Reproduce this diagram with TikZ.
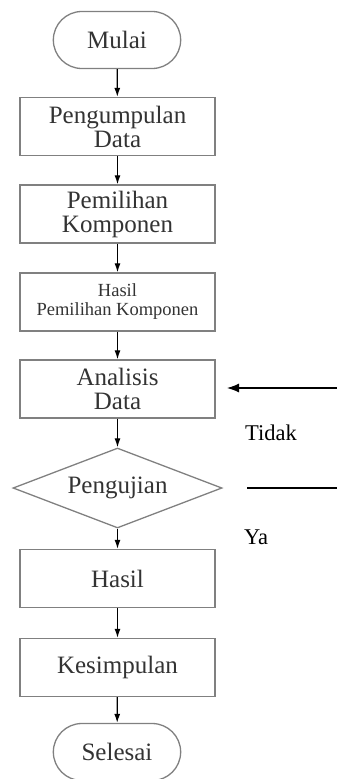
\documentclass[tikz,border=0pt]{standalone}
\usepackage{fontspec}
\setmainfont{Liberation Serif}
\usetikzlibrary{shapes.geometric,shapes.misc,arrows.meta}

\tikzset{
  garis/.style={draw=black!50, line width=1.3pt},
  proses/.style={garis, rectangle, minimum width=195pt, minimum height=58pt,
    align=center, text=black!80, font=\fontsize{25}{24}\selectfont},
  terminal/.style={garis, rounded rectangle, minimum width=134pt, minimum height=57pt,
    text=black!80, font=\fontsize{25}{24}\selectfont},
  keputusan/.style={garis, diamond, aspect=2.6, minimum width=209pt, minimum height=80pt,
    inner sep=0pt, text=black!80, font=\fontsize{25}{24}\selectfont},
  panah/.style={-{Latex[length=9pt,width=6pt]}, line width=1.2pt},
  label/.style={font=\fontsize{22.5}{23}\selectfont}
}

\begin{document}
\begin{tikzpicture}[x=1pt,y=-1pt]
\useasboundingbox (0,0) rectangle (337,779);
\node[terminal](mulai) at (117,40) {Mulai};
\node[proses](kumpul) at (117.5,126.5) {Pengumpulan\\Data};
\node[proses](pilih) at (117.5,214) {Pemilihan\\Komponen};
\node[proses, font=\fontsize{18.5}{19}\selectfont](hasilpilih) at (117.5,302) {Hasil\\Pemilihan Komponen};
\node[proses](analisis) at (117.5,389) {Analisis\\Data};
\node[keputusan](uji) at (117.5,488) {Pengujian};
\node[proses](hasil) at (117.5,578.5) {Hasil};
\node[proses](simpul) at (117.5,667.5) {Kesimpulan};
\node[terminal](selesai) at (117,752) {Selesai};
\node[label](tidak) at (271,433) {Tidak};
\node[label](ya) at (256,537) {Ya};
\coordinate (kembali1) at (337,388);
\coordinate (kembali2) at (227,388);
\coordinate (keluar1) at (247,488);
\coordinate (keluar2) at (337,488);

\draw[panah] (mulai) -- (kumpul);
\draw[panah] (kumpul) -- (pilih);
\draw[panah] (pilih) -- (hasilpilih);
\draw[panah] (hasilpilih) -- (analisis);
\draw[panah] (analisis) -- (uji);
\draw[panah] (uji) -- (hasil);
\draw[panah] (hasil) -- (simpul);
\draw[panah] (simpul) -- (selesai);
\draw[panah, -{Latex[length=12pt,width=9pt]}] (kembali1) -- (kembali2);
\draw[line width=1.2pt] (keluar1) -- (keluar2);
\end{tikzpicture}
\end{document}
